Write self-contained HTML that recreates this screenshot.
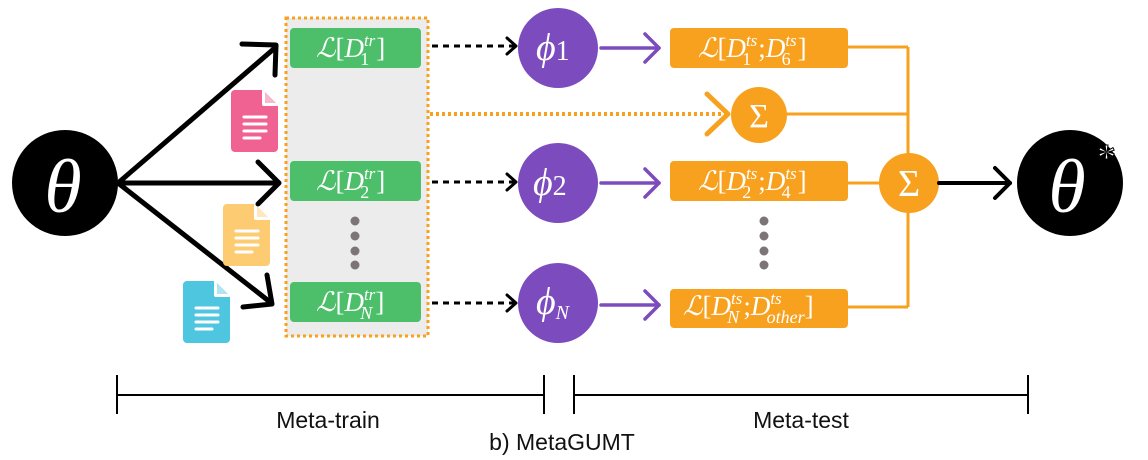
<!DOCTYPE html>
<html><head><meta charset="utf-8"><style>
html,body{margin:0;padding:0;background:#fff;}
svg{display:block;}
.m{font-family:"Liberation Serif",serif;font-style:italic;fill:#fff;}
.u{font-family:"Liberation Serif",serif;font-style:normal;fill:#fff;}
.lbl{font-family:"Liberation Sans",sans-serif;font-size:23px;fill:#111;}
</style></head><body>
<svg width="1148" height="460" viewBox="0 0 1148 460" xmlns="http://www.w3.org/2000/svg">
<defs>
<g id="doc">
<path d="M4 0 H31 L47 16 V58 a4 4 0 0 1 -4 4 H4 a4 4 0 0 1 -4 -4 V4 a4 4 0 0 1 4 -4Z"/>
<path d="M31 0 V14 a2 2 0 0 0 2 2 H47Z" fill="#fff"/>
<path d="M34 2 V13 H45Z" fill="inherit" opacity="0.45"/>
<g stroke="#fff" stroke-width="3" stroke-linecap="round">
<line x1="13" y1="27" x2="35" y2="27"/><line x1="13" y1="34" x2="35" y2="34"/><line x1="13" y1="41" x2="35" y2="41"/><line x1="13" y1="48" x2="29" y2="48"/>
</g>
</g>
</defs>

<rect x="286" y="18" width="142" height="318" fill="#ececec" stroke="#f7a11f" stroke-width="3" stroke-dasharray="3,3"/>

<circle cx="65" cy="183" r="53" fill="#000"/>
<text x="63" y="212" class="m" font-size="76" text-anchor="middle">θ</text>

<g stroke="#000" stroke-width="5" fill="none" stroke-linecap="round" stroke-linejoin="round">
<line x1="118" y1="183" x2="276" y2="47"/>
<polyline points="242,44 276,45 275,75"/>
<line x1="118" y1="183" x2="278" y2="183"/>
<polyline points="258,162 279,183 258,204"/>
<line x1="118" y1="183" x2="270" y2="302"/>
<polyline points="267,275 272,304 243,307"/>
</g>

<use href="#doc" x="231" y="90" fill="#f06292"/>
<use href="#doc" x="223" y="204" fill="#fccb72"/>
<use href="#doc" x="183" y="281" fill="#4fc6e0"/>

<g fill="#4dbf6b">
<rect x="290" y="28" width="131" height="40" rx="4"/>
<rect x="290" y="161" width="131" height="40" rx="4"/>
<rect x="290" y="282" width="131" height="40" rx="4"/>
</g>
<g class="m" font-size="27">
<text x="316" y="57">ℒ<tspan class="u">[</tspan>D<tspan font-size="17" dy="-11">tr</tspan><tspan class="u" font-size="18" dx="-15" dy="19">1</tspan><tspan class="u" dx="7" dy="-8">]</tspan></text>
<text x="316" y="190">ℒ<tspan class="u">[</tspan>D<tspan font-size="17" dy="-11">tr</tspan><tspan class="u" font-size="18" dx="-15" dy="19">2</tspan><tspan class="u" dx="7" dy="-8">]</tspan></text>
<text x="316" y="311">ℒ<tspan class="u">[</tspan>D<tspan font-size="17" dy="-11">tr</tspan><tspan font-size="18" dx="-15" dy="19">N</tspan><tspan class="u" dx="3" dy="-8">]</tspan></text>
</g>
<g fill="#7d7575">
<circle cx="355" cy="221" r="4.5"/><circle cx="355" cy="236" r="4.5"/><circle cx="355" cy="251" r="4.5"/><circle cx="355" cy="265" r="4.5"/>
<circle cx="764" cy="221" r="4.5"/><circle cx="764" cy="236" r="4.5"/><circle cx="764" cy="251" r="4.5"/><circle cx="764" cy="265" r="4.5"/>
</g>

<g stroke="#000" stroke-width="3" fill="none" stroke-linecap="round" stroke-linejoin="round">
<line x1="432" y1="46" x2="514" y2="46" stroke-dasharray="6,5" stroke-linecap="butt"/>
<polyline points="507,38 516,46 507,54"/>
<line x1="432" y1="182" x2="514" y2="182" stroke-dasharray="6,5" stroke-linecap="butt"/>
<polyline points="507,174 516,182 507,190"/>
<line x1="432" y1="303" x2="514" y2="303" stroke-dasharray="6,5" stroke-linecap="butt"/>
<polyline points="507,295 516,303 507,311"/>
</g>

<g fill="#7c4bbd">
<circle cx="558" cy="48" r="40"/><circle cx="558" cy="183" r="40"/><circle cx="558" cy="303" r="40"/>
</g>
<g class="m" font-size="38">
<text x="536" y="60">ϕ<tspan class="u" font-size="28">1</tspan></text>
<text x="533" y="195">ϕ<tspan class="u" font-size="28">2</tspan></text>
<text x="536" y="314">ϕ<tspan font-size="20" dy="5">N</tspan></text>
</g>

<g stroke="#7c4bbd" stroke-width="3.5" fill="none" stroke-linecap="round" stroke-linejoin="round">
<line x1="601" y1="48" x2="659" y2="48"/><polyline points="645,34 659,48 645,62"/>
<line x1="601" y1="183" x2="659" y2="183"/><polyline points="645,169 659,183 645,197"/>
<line x1="601" y1="305" x2="659" y2="305"/><polyline points="645,291 659,305 645,319"/>
</g>

<g stroke="#f7a11f" stroke-width="3" fill="none">
<line x1="848" y1="47" x2="908" y2="47"/>
<line x1="908" y1="47" x2="908" y2="307"/>
<line x1="786" y1="114" x2="908" y2="114"/>
<line x1="848" y1="183" x2="880" y2="183"/>
<line x1="848" y1="307" x2="908" y2="307"/>
<line x1="430" y1="114" x2="726" y2="114" stroke-width="4" stroke-dasharray="3,3"/>
<polyline points="707,94 728,114 707,134" stroke-width="5" stroke-linecap="round" stroke-linejoin="round"/>
</g>

<g fill="#f7a11f">
<rect x="670" y="28" width="178" height="40" rx="4"/>
<rect x="670" y="161" width="178" height="40" rx="4"/>
<rect x="670" y="289" width="178" height="39" rx="4"/>
<circle cx="759" cy="115" r="28"/>
<circle cx="909" cy="183" r="30"/>
</g>
<g class="m" font-size="27">
<text x="698" y="57">ℒ<tspan class="u">[</tspan>D<tspan font-size="17" dy="-11">ts</tspan><tspan class="u" font-size="18" dx="-15" dy="19">1</tspan><tspan class="u" dx="7" dy="-8">;</tspan>D<tspan font-size="17" dy="-11">ts</tspan><tspan class="u" font-size="18" dx="-15" dy="19">6</tspan><tspan class="u" dx="7" dy="-8">]</tspan></text>
<text x="698" y="190">ℒ<tspan class="u">[</tspan>D<tspan font-size="17" dy="-11">ts</tspan><tspan class="u" font-size="18" dx="-15" dy="19">2</tspan><tspan class="u" dx="7" dy="-8">;</tspan>D<tspan font-size="17" dy="-11">ts</tspan><tspan class="u" font-size="18" dx="-15" dy="19">4</tspan><tspan class="u" dx="7" dy="-8">]</tspan></text>
<text x="683" y="315">ℒ<tspan class="u">[</tspan>D<tspan font-size="17" dy="-11">ts</tspan><tspan font-size="18" dx="-15" dy="19">N</tspan><tspan class="u" dx="4" dy="-8">;</tspan>D<tspan font-size="17" dy="-11">ts</tspan><tspan font-size="18" dx="-15" dy="19">other</tspan><tspan class="u" dy="-8">]</tspan></text>
</g>
<text x="759" y="127" class="u" font-size="34" text-anchor="middle">Σ</text>
<text x="909" y="196" class="u" font-size="38" text-anchor="middle">Σ</text>

<g stroke="#000" stroke-width="4" fill="none" stroke-linecap="round" stroke-linejoin="round">
<line x1="939" y1="183" x2="1010" y2="183"/>
<polyline points="995,168 1010,183 995,198"/>
</g>
<circle cx="1070" cy="183" r="53" fill="#000"/>
<text x="1067" y="212" class="m" font-size="76" text-anchor="middle">θ</text>
<text x="1097" y="170" class="u" font-size="38" stroke="#000" stroke-width="1">*</text>

<g stroke="#000" stroke-width="2">
<line x1="117" y1="395" x2="544" y2="395"/>
<line x1="117" y1="375" x2="117" y2="414"/>
<line x1="544" y1="375" x2="544" y2="414"/>
<line x1="574" y1="395" x2="1028" y2="395"/>
<line x1="574" y1="375" x2="574" y2="414"/>
<line x1="1028" y1="375" x2="1028" y2="414"/>
</g>
<text x="328" y="428" class="lbl" text-anchor="middle">Meta-train</text>
<text x="801" y="428" class="lbl" text-anchor="middle">Meta-test</text>
<text x="562" y="450" class="lbl" text-anchor="middle">b) MetaGUMT</text>
</svg>
</body></html>
